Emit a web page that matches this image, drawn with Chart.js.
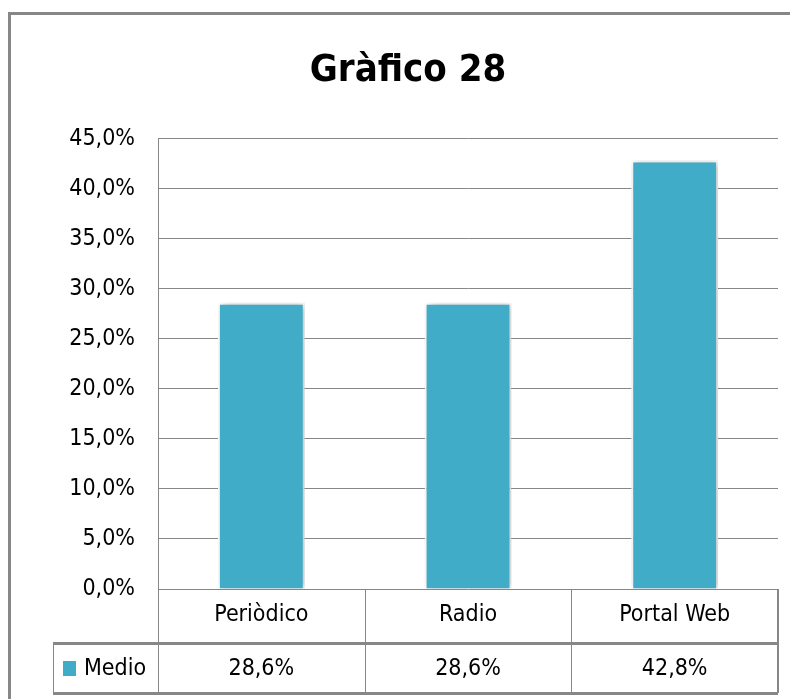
<!DOCTYPE html>
<html>
<head>
<meta charset="utf-8">
<script src="https://cdn.jsdelivr.net/npm/chart.js@4.4.0/dist/chart.umd.min.js"></script>
<style>
  html, body { margin: 0; padding: 0; background: #fff; }
  #wrap { width: 790px; height: 699px; position: relative; }
</style>
</head>
<body>
<div id="wrap"><canvas id="grafico"></canvas></div>
<script>
// datos
const titulo = 'Gràfico 28';
const categorias = ['Periòdico', 'Radio', 'Portal Web'];
const serieNombre = 'Medio';
const valores = [28.6, 28.6, 42.8];
const yMin = 0, yMax = 45, yPaso = 5;

const FUENTE = "'DejaVu Sans Condensed', 'Liberation Sans Narrow', 'Open Sans', sans-serif";
const AZUL = '#41acc8';
const GRIS = '#878787';

function pct(v) {
  return v.toFixed(1).replace('.', ',') + '%';
}

document.addEventListener('DOMContentLoaded', function () {
  const ctx = document.getElementById('grafico').getContext('2d');

  // sombra suave detrás de las barras
  const sombra = {
    id: 'sombra',
    beforeDatasetsDraw(chart) {
      const c = chart.ctx;
      c.save();
      c.shadowColor = 'rgba(0, 0, 0, 0.3)';
      c.shadowBlur = 7;
      c.shadowOffsetX = 2;
    },
    afterDatasetsDraw(chart) {
      chart.ctx.restore();
    }
  };

  // marco exterior + tabla de datos debajo del eje
  const tabla = {
    id: 'tabla',
    afterDraw(chart) {
      const c = chart.ctx;
      const x = chart.scales.x;
      const y = chart.scales.y;
      const n = categorias.length;
      const mitad = (x.getPixelForValue(1) - x.getPixelForValue(0)) / 2;
      const bordes = categorias.map((_, i) => x.getPixelForValue(i) - mitad);
      bordes.push(x.getPixelForValue(n - 1) + mitad);

      const arriba = y.getPixelForValue(0);
      const medio = arriba + 54;
      const abajo = arriba + 104;
      const izq = 53;

      c.save();
      c.strokeStyle = GRIS;

      // marco
      c.lineWidth = 3;
      c.beginPath();
      c.moveTo(9.5, 699);
      c.lineTo(9.5, 13.5);
      c.lineTo(790, 13.5);
      c.stroke();

      // líneas verticales de la tabla
      c.lineWidth = 1;
      c.beginPath();
      for (let i = 0; i < n; i++) {
        const bx = Math.round(bordes[i]) + 0.5;
        c.moveTo(bx, arriba);
        c.lineTo(bx, abajo);
      }
      c.moveTo(izq + 0.5, medio);
      c.lineTo(izq + 0.5, abajo);
      c.stroke();

      c.lineWidth = 2;
      c.beginPath();
      c.moveTo(Math.round(bordes[n]), arriba);
      c.lineTo(Math.round(bordes[n]), abajo);
      c.stroke();

      // líneas horizontales
      c.lineWidth = 3;
      c.beginPath();
      c.moveTo(izq, medio + 0.5);
      c.lineTo(bordes[n], medio + 0.5);
      c.moveTo(izq, abajo + 0.5);
      c.lineTo(bordes[n], abajo + 0.5);
      c.stroke();

      // fila de valores
      const fy = (medio + abajo) / 2 + 1;
      c.fillStyle = AZUL;
      c.fillRect(63, fy - 8, 13, 15);
      c.fillStyle = '#000';
      c.font = '23px ' + FUENTE;
      c.textBaseline = 'middle';
      c.textAlign = 'left';
      c.fillText(serieNombre, 84, fy);
      c.textAlign = 'center';
      valores.forEach((v, i) => {
        c.fillText(pct(v), x.getPixelForValue(i), fy);
      });
      c.restore();
    }
  };

  new Chart(ctx, {
    type: 'bar',
    data: {
      labels: categorias,
      datasets: [{
        label: serieNombre,
        data: valores,
        backgroundColor: AZUL,
        borderColor: '#ffffff',
        borderWidth: 2,
        barPercentage: 0.42,
        categoryPercentage: 1
      }]
    },
    options: {
      responsive: true,
      maintainAspectRatio: false,
      animation: false,
      layout: { padding: { left: 38, right: 12, top: 0, bottom: 0 } },
      plugins: {
        legend: { display: false },
        tooltip: { enabled: false },
        title: {
          display: true,
          text: titulo,
          color: '#000',
          font: { family: FUENTE, size: 38, weight: 'bold', lineHeight: 1.2 },
          padding: { top: 48, bottom: 45 }
        }
      },
      scales: {
        x: {
          grid: { display: false, drawTicks: false },
          border: { display: false },
          ticks: {
            color: '#000',
            font: { family: FUENTE, size: 23 },
            padding: 12
          },
          afterFit(scale) { scale.height = 110; }
        },
        y: {
          min: yMin,
          max: yMax,
          grid: { color: GRIS, lineWidth: 1, drawTicks: false },
          border: { display: true, color: GRIS, width: 1 },
          ticks: {
            stepSize: yPaso,
            color: '#000',
            padding: 23,
            font: { family: FUENTE, size: 23 },
            callback: (v) => pct(v)
          },
          afterFit(scale) { scale.width = 120; }
        }
      }
    },
    plugins: [sombra, tabla]
  });
});
</script>
</body>
</html>
